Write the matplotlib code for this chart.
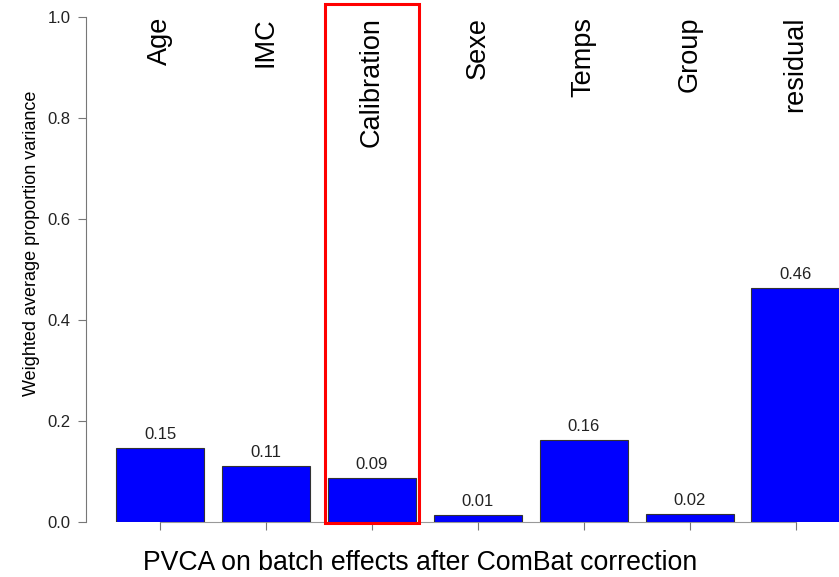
import matplotlib
matplotlib.use("Agg")
import matplotlib.pyplot as plt
from matplotlib.patches import Rectangle

plt.rcParams['font.family'] = ['Liberation Sans', 'DejaVu Sans']

categories = ['Age', 'IMC', 'Calibration', 'Sexe', 'Temps', 'Group', 'residual']
values = [0.147, 0.111, 0.087, 0.013, 0.162, 0.016, 0.464]
value_labels = ['0.15', '0.11', '0.09', '0.01', '0.16', '0.02', '0.46']
highlight = 'Calibration'

fig = plt.figure(figsize=(8.39, 5.77), dpi=100)
# axes placed so y=0 sits at pixel 522 and y=1 at pixel 17
ax = fig.add_axes([86 / 839, 55 / 577, 1 - 86 / 839, 505 / 577])

x = list(range(len(categories)))
ax.bar(x, values, width=0.833, color='#0000ff', edgecolor='#333333', linewidth=0.8, zorder=2)

for xi, v, lab in zip(x, values, value_labels):
    ax.text(xi, v + 0.012, lab, ha='center', va='bottom', fontsize=12, color='#222222')

for xi, name in zip(x, categories):
    ax.text(xi, 1.0, name, rotation=90, ha='center', va='top', fontsize=19.5, color='black')

# red box around the highlighted factor
hi = categories.index(highlight)
ax.add_patch(Rectangle((hi - 0.445, -0.001), 0.89, 1.026, fill=False, edgecolor='#ff0000',
                       linewidth=2.2, clip_on=False, zorder=3))

ax.set_xlim(-0.699, 6.41)
ax.set_ylim(0, 1.0)

for side in ['top', 'right']:
    ax.spines[side].set_visible(False)
ax.spines['left'].set_bounds(0, 1.0)
ax.spines['bottom'].set_bounds(0, 6)
ax.spines['left'].set_color('#777777')
ax.spines['bottom'].set_color('#999999')
ax.spines['bottom'].set_zorder(1)

ax.set_yticks([0.0, 0.2, 0.4, 0.6, 0.8, 1.0])
ax.set_yticklabels(['0.0', '0.2', '0.4', '0.6', '0.8', '1.0'])
ax.set_xticks(x)
ax.set_xticklabels([])
ax.tick_params(axis='y', length=6, width=0.8, color='#777777', labelsize=12, labelcolor='#222222', pad=5)
ax.tick_params(axis='x', length=6, width=0.8, color='#777777')

fig.text(32 / 839, 1 - 243 / 577, 'Weighted average proportion variance', rotation=90,
         ha='center', va='center', fontsize=13, color='black')
fig.text(420 / 839, 1 - 570 / 577, 'PVCA on batch effects after ComBat correction',
         ha='center', va='baseline', fontsize=19.2, color='black')

fig.savefig('out.png', dpi=100)
